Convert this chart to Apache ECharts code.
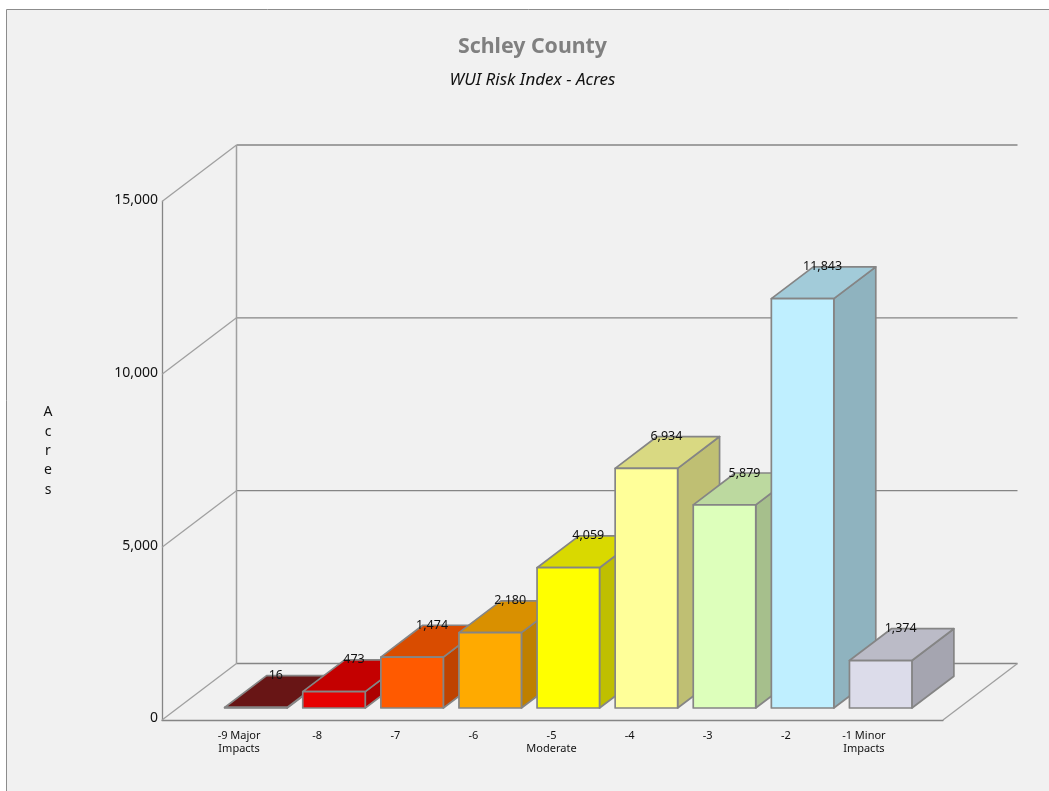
<!DOCTYPE html>
<html><head><meta charset="utf-8">
<style>html,body{margin:0;padding:0;background:#fff}#c{width:1049px;height:791px}</style>
<script src="https://cdn.jsdelivr.net/npm/echarts@6/dist/echarts.min.js"></script>
</head><body><div id="c"></div>
<script>
const categories = ['-9 Major\nImpacts','-8','-7','-6','-5\nModerate','-4','-3','-2','-1 Minor\nImpacts'];
const acres = [16,473,1474,2180,4059,6934,5879,11843,1374];
const frontColors = ['#7b1919','#e60000','#ff5a00','#ffaa00','#ffff00','#ffff99','#ddffbb','#bfefff','#dcdcea'];
const topColors = ['#681515','#c40000','#d94c00','#d99000','#d9d900','#d9d982','#bcd99f','#a2cbd9','#bbbbc7'];
const sideColors = ['#5c1313','#ad0000','#bf4300','#bf8000','#bfbf00','#bfbf73','#a6bf8c','#8fb3bf','#a5a5b0'];
const yTicks = [0,5000,10000,15000];

const FONT = '"Noto Sans","Open Sans",sans-serif';
const GRID = '#858585', EDGE = '#858585', TEXT = '#111111';
const DEPTH = [74.5, -56.5];
const BAR_FRONT = 0.212, BAR_BACK = 0.775;
const axisCats = [''].concat(categories, [' ']);

function off(p, f){ return [p[0]+DEPTH[0]*f, p[1]+DEPTH[1]*f]; }
function seg(a,b,color,w){
  return {type:'line',shape:{x1:a[0],y1:a[1],x2:b[0],y2:b[1]},style:{stroke:color||GRID,lineWidth:w||1.3},silent:true};
}
function renderWalls(params, api){
  const v = api.value(0);
  const L = api.coord([0,v]), R = api.coord([axisCats.length-1,v]);
  const kids = [seg(L,off(L,1),'#a0a0a0'), seg(off(L,1),off(R,1))];
  if(v===0) kids.push(seg(R,off(R,1),'#a0a0a0'));
  if(v===yTicks[yTicks.length-1]) kids.push(seg(off(L,1),off(api.coord([0,0]),1),'#a0a0a0',1.5));
  return {type:'group',children:kids};
}
function renderBar(params, api){
  const i = params.dataIndex;
  const x = api.value(0), v = api.value(1);
  const w = api.size([1,0])[0]*0.8;
  const c0 = api.coord([x,0]), c1 = api.coord([x,v]);
  const b = off(c0,BAR_FRONT), t = off(c1,BAR_FRONT);
  const fl=b[0]-w/2, fr=b[0]+w/2, yb=b[1], yt=t[1];
  const dx=DEPTH[0]*(BAR_BACK-BAR_FRONT), dy=DEPTH[1]*(BAR_BACK-BAR_FRONT);
  const s = {stroke:EDGE,lineWidth:1.7,lineJoin:'round'};
  const poly=(pts,fill)=>({type:'polygon',shape:{points:pts},style:Object.assign({fill},s),silent:true});
  return {type:'group',children:[
    poly([[fr,yb],[fr+dx,yb+dy],[fr+dx,yt+dy],[fr,yt]],sideColors[i]),
    poly([[fl,yt],[fr,yt],[fr+dx,yt+dy],[fl+dx,yt+dy]],topColors[i]),
    poly([[fl,yb],[fr,yb],[fr,yt],[fl,yt]],frontColors[i]),
    {type:'text',z2:100,silent:true,x:b[0]+dx/2-1,y:yt+dy,
     style:{text:api.value(1).toLocaleString('en-US'),align:'center',verticalAlign:'middle',fill:TEXT,font:'12.5px '+FONT}}
  ]};
}
const chart = echarts.init(document.getElementById('c'),null,{renderer:'canvas'});
chart.setOption({
  animation:false,
  backgroundColor:'#ffffff',
  graphic:[
    {type:'rect',z:-10,silent:true,shape:{x:6.5,y:9.5,width:1100,height:900},style:{fill:'#f1f1f1',stroke:'#8c8c8c',lineWidth:1}},
    {type:'text',z:5,silent:true,x:48,y:451,style:{text:'A\nc\nr\ne\ns',align:'center',verticalAlign:'middle',fill:TEXT,font:'14px '+FONT,lineHeight:19.3}}
  ],
  title:{text:'Schley County',subtext:'WUI Risk Index - Acres',left:527.5,top:31,textAlign:'center',itemGap:15,
    textStyle:{color:'#808080',fontWeight:'bold',fontSize:21.3,fontFamily:FONT},
    subtextStyle:{color:'#111111',fontStyle:'italic',fontSize:17,fontFamily:FONT}},
  grid:{left:162,top:201.5,width:781,height:518.5,containLabel:false},
  xAxis:{type:'category',data:axisCats,boundaryGap:false,
    axisLine:{lineStyle:{color:GRID,width:1.3}},axisTick:{show:false},splitLine:{show:false},
    axisLabel:{interval:0,fontSize:11,lineHeight:13,margin:9,color:TEXT,fontFamily:FONT,hideOverlap:false,padding:[0,2,0,0]}},
  yAxis:{type:'value',min:0,max:15000,interval:5000,
    axisLine:{show:true,lineStyle:{color:GRID,width:1.3}},axisTick:{show:false},splitLine:{show:false},
    axisLabel:{margin:4,fontSize:14,color:TEXT,fontFamily:FONT,verticalAlign:'bottom',lineHeight:3,
      formatter:v=>v.toLocaleString('en-US')}},
  series:[
    {type:'custom',name:'walls',coordinateSystem:'cartesian2d',silent:true,z:1,
     encode:{y:0},data:yTicks.map(v=>[v]),renderItem:renderWalls},
    {type:'custom',name:'Acres',coordinateSystem:'cartesian2d',silent:true,z:2,
     encode:{x:0,y:1},data:acres.map((v,i)=>[i+1,v]),renderItem:renderBar}
  ]
});
</script></body></html>
